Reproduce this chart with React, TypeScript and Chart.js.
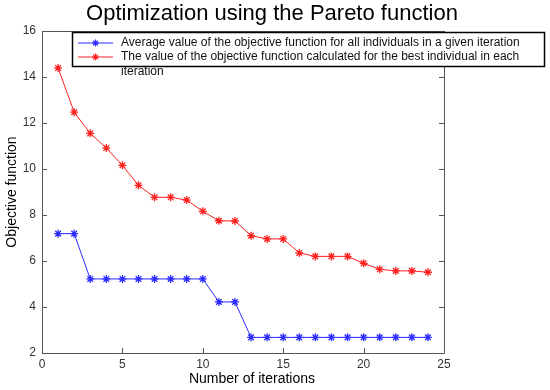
import React, { useEffect, useRef } from "react";
import { Chart, registerables } from "chart.js";

Chart.register(...registerables);

const iterations = [1, 2, 3, 4, 5, 6, 7, 8, 9, 10, 11, 12, 13, 14, 15, 16, 17, 18, 19, 20, 21, 22, 23, 24];
const averageValues = [7.19, 7.19, 5.22, 5.22, 5.22, 5.22, 5.22, 5.22, 5.22, 5.22, 4.22, 4.22, 2.68, 2.68, 2.68, 2.68, 2.68, 2.68, 2.68, 2.68, 2.68, 2.68, 2.68, 2.68];
const bestValues = [14.39, 12.47, 11.55, 10.91, 10.16, 9.29, 8.77, 8.77, 8.65, 8.16, 7.75, 7.74, 7.1, 6.96, 6.96, 6.35, 6.2, 6.2, 6.2, 5.9, 5.64, 5.57, 5.57, 5.51];
const seriesLabels = [
  "Average value of the objective function for all individuals in a given iteration",
  "The value of the objective function calculated for the best individual in each",
  "iteration",
];
const titleText = "Optimization using the Pareto function";
const xTitle = "Number of iterations";
const yTitle = "Objective function";

const FONT = "Arial, 'Liberation Sans', sans-serif";

const framePlugin = {
  id: "frame",
  afterDraw(chart: any) {
    const { ctx, chartArea } = chart;
    const { left, right, top, bottom } = chartArea;
    const xs = chart.scales.x;
    const ys = chart.scales.y;
    ctx.save();
    // title
    ctx.font = "22px " + FONT;
    ctx.fillStyle = "#000";
    ctx.textAlign = "center";
    ctx.textBaseline = "alphabetic";
    ctx.fillText(titleText, 272, 20);
    // x axis title
    ctx.font = "14px " + FONT;
    ctx.textBaseline = "middle";
    ctx.fillText(xTitle, 252, 379);
    ctx.textAlign = "left";

    ctx.strokeStyle = "#555";
    ctx.lineWidth = 1;
    ctx.beginPath();
    ctx.rect(Math.round(left) + 0.5, Math.round(top) + 0.5, Math.round(right - left), Math.round(bottom - top));
    ctx.stroke();
    const tl = 5;
    ctx.beginPath();
    ys.ticks.forEach((t: any) => {
      const y = Math.round(ys.getPixelForValue(t.value)) + 0.5;
      ctx.moveTo(left, y);
      ctx.lineTo(left + tl, y);
      ctx.moveTo(right, y);
      ctx.lineTo(right - tl, y);
    });
    xs.ticks.forEach((t: any) => {
      const x = Math.round(xs.getPixelForValue(t.value)) + 0.5;
      ctx.moveTo(x, bottom);
      ctx.lineTo(x, bottom - tl);
      ctx.moveTo(x, top);
      ctx.lineTo(x, top + tl);
    });
    ctx.stroke();

    // legend
    const bx = 72.5, by = 32.5, bw = 472, bh = 34;
    ctx.fillStyle = "#fff";
    ctx.fillRect(bx, by, bw, bh);
    ctx.strokeStyle = "#000";
    ctx.lineWidth = 1.5;
    ctx.strokeRect(bx, by, bw, bh);
    ctx.font = "12px " + FONT;
    ctx.textBaseline = "middle";
    const rows = [43, 57, 71.5];
    const ds = chart.data.datasets;
    [0, 1].forEach((i) => {
      const y = rows[i];
      ctx.strokeStyle = ds[i].borderColor;
      ctx.lineWidth = 1;
      ctx.beginPath();
      ctx.moveTo(78, y);
      ctx.lineTo(113, y);
      ctx.stroke();
      const r = 3.5;
      ctx.lineWidth = 1.2;
      ctx.beginPath();
      ctx.moveTo(95.5 - r, y);
      ctx.lineTo(95.5 + r, y);
      ctx.moveTo(95.5, y - r);
      ctx.lineTo(95.5, y + r);
      ctx.moveTo(95.5 - r * 0.7, y - r * 0.7);
      ctx.lineTo(95.5 + r * 0.7, y + r * 0.7);
      ctx.moveTo(95.5 - r * 0.7, y + r * 0.7);
      ctx.lineTo(95.5 + r * 0.7, y - r * 0.7);
      ctx.stroke();
    });
    ctx.fillStyle = "#111";
    seriesLabels.forEach((s, i) => {
      ctx.fillText(s, 121, rows[i]);
    });
    ctx.restore();
  },
};

export default function App() {
  const ref = useRef<HTMLCanvasElement | null>(null);
  useEffect(() => {
    if (!ref.current) return;
    const chart = new Chart(ref.current, {
      type: "line",
      data: {
        datasets: [
          {
            label: seriesLabels[0],
            data: iterations.map((x, i) => ({ x, y: averageValues[i] })),
            borderColor: "#2b2bff",
            backgroundColor: "#2b2bff",
            borderWidth: 1,
            pointStyle: "star",
            pointRadius: 4,
            pointBorderWidth: 1.3,
          },
          {
            label: seriesLabels[1],
            data: iterations.map((x, i) => ({ x, y: bestValues[i] })),
            borderColor: "#ff2020",
            backgroundColor: "#ff2020",
            borderWidth: 1,
            pointStyle: "star",
            pointRadius: 4,
            pointBorderWidth: 1.3,
          },
        ],
      },
      options: {
        animation: false,
        responsive: false,
        layout: { padding: { left: 0, right: 106, top: 31, bottom: 0 } },
        plugins: {
          legend: { display: false },
          tooltip: { enabled: false },
          title: { display: false },
        },
        scales: {
          x: {
            type: "linear",
            min: 0,
            max: 25,
            ticks: { stepSize: 5, color: "#333", font: { family: FONT, size: 12 }, padding: 4, maxRotation: 0 },
            grid: { display: false, drawTicks: false },
            border: { display: false },
            title: { display: false },
            afterFit: (s: any) => { s.height = 37; },
          },
          y: {
            type: "linear",
            min: 2,
            max: 16,
            ticks: { stepSize: 2, color: "#333", font: { family: FONT, size: 12 }, padding: 6 },
            grid: { display: false, drawTicks: false },
            border: { display: false },
            title: { display: true, text: yTitle, color: "#000", font: { family: FONT, size: 14 }, padding: { top: 4, bottom: 2 } },
            afterFit: (s: any) => { s.width = 42; },
          },
        },
      },
      plugins: [framePlugin],
    });
    return () => chart.destroy();
  }, []);
  return (
    <div style={{ position: "fixed", left: 0, top: 0, width: 550, height: 390, background: "#fff" }}>
      <canvas ref={ref} width={550} height={390} />
    </div>
  );
}
